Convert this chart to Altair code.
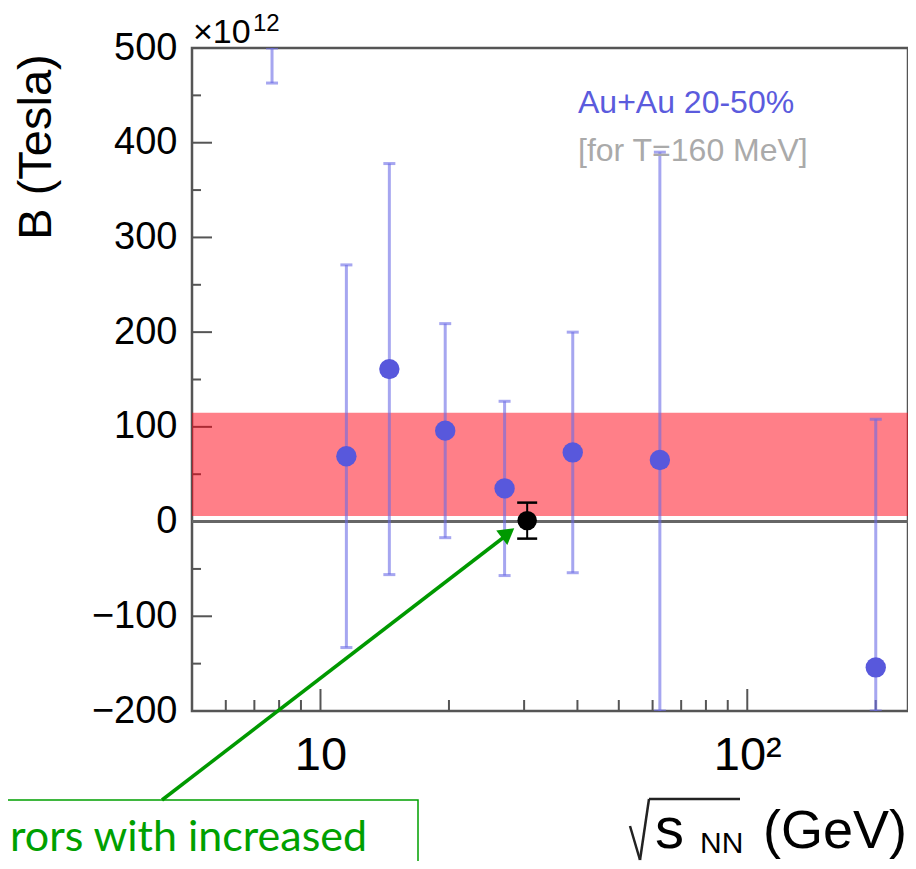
import altair as alt
import pandas as pd

# ---------------- data ----------------
energy = [7.7, 11.5, 14.5, 19.6, 27, 39, 62.4, 200]          # sqrt(s_NN) in GeV
b_value = [620, 69, 161, 96, 35, 73, 65, -154]               # B (x10^12 T)
b_error = [157, 202, 217, 113, 92, 127, 325, 262]

ref_energy = [30.5]
ref_value = [1]
ref_error = [19]

band_low = [6]
band_high = [115]

x_domain = [5, 238]
y_domain = [-200, 500]
x_label_ticks = [10, 100]
x_minor_ticks = [6, 7, 8, 9, 20, 30, 40, 50, 60, 70, 80, 90, 200]
y_major_ticks = [-200, -100, 0, 100, 200, 300, 400, 500]
y_minor_ticks = [-150, -50, 50, 150, 250, 350, 450]

legend_lines = ["Au+Au 20-50%", "[for T=160 MeV]"]
y_title = "B (Tesla)"
y_exponent = ["×10", "12"]
x_title_parts = ["s", "NN", "(GeV)"]
note_text = "rors with increased"

# ---------------- layout ----------------
W, H = 716, 663
OX, OY = 192, 48          # page position of plot origin
FONT = "Liberation Sans"
BLUE = "#5858dc"
GREEN = "#00a000"
FRAME = "#555555"

xs = alt.Scale(type="log", domain=x_domain, nice=False)
ys = alt.Scale(domain=y_domain, nice=False, zero=False)

AX_X = alt.Axis(
    values=x_label_ticks,
    labelExpr="datum.value == 10 ? '10' : '10²'",
    labelFontSize=47, labelFont=FONT, labelColor="black",
    tickSize=0, domain=False, grid=False, title=None,
    labelPadding=21, labelFlush=False, labelOverlap=False)
AX_Y = alt.Axis(
    values=y_major_ticks, format="d",
    labelFontSize=38, labelFont=FONT, labelColor="black",
    tickSize=0, domain=False, grid=False, title=None,
    labelPadding=15, labelFlush=False, labelOverlap=False)

df = pd.DataFrame({"E": energy, "B": b_value, "err": b_error})
ref = pd.DataFrame({"E": ref_energy, "B": ref_value, "err": ref_error})
band = pd.DataFrame({"lo": band_low, "hi": band_high})


def calc(ch):
    return ch.transform_calculate(
        lo="datum.B - datum.err",
        hi="datum.B + datum.err",
    ).transform_calculate(
        lo_cap="max(datum.lo, %d)" % y_domain[0],
        hi_cap="min(datum.hi, %d)" % y_domain[1],
    )


def X(field="E"):
    return alt.X(f"{field}:Q", scale=xs, axis=AX_X)


def Y(field):
    return alt.Y(f"{field}:Q", scale=ys, axis=AX_Y)


def txt(s, px, py, size, color="black", font=FONT, align="left",
        baseline="alphabetic", angle=0):
    d = pd.DataFrame({"t": [s]})
    return alt.Chart(d).mark_text(
        align=align, baseline=baseline, fontSize=size, font=font,
        color=color, angle=angle
    ).encode(x=alt.value(px - OX), y=alt.value(py - OY), text="t:N")


def seg(p1, p2, color, width):
    d = pd.DataFrame({"k": [0]})
    return alt.Chart(d).mark_rule(color=color, strokeWidth=width).encode(
        x=alt.value(p1[0] - OX), y=alt.value(p1[1] - OY),
        x2=alt.value(p2[0] - OX), y2=alt.value(p2[1] - OY))


# inward ticks
xmaj = alt.Chart(pd.DataFrame({"v": x_label_ticks})).mark_rule(
    color=FRAME, strokeWidth=2).encode(x=X("v"), y=alt.value(H), y2=alt.value(H - 22))
xmin = alt.Chart(pd.DataFrame({"v": x_minor_ticks})).mark_rule(
    color=FRAME, strokeWidth=2).encode(x=X("v"), y=alt.value(H), y2=alt.value(H - 11))
ymaj = alt.Chart(pd.DataFrame({"v": y_major_ticks})).mark_rule(
    color=FRAME, strokeWidth=2).encode(y=Y("v"), x=alt.value(0), x2=alt.value(20))
ymin = alt.Chart(pd.DataFrame({"v": y_minor_ticks})).mark_rule(
    color=FRAME, strokeWidth=2).encode(y=Y("v"), x=alt.value(0), x2=alt.value(9))

band_layer = alt.Chart(band).mark_rect(color="#ff0011", opacity=0.5).encode(
    x=alt.value(0), x2=alt.value(W), y=Y("lo"), y2="hi:Q")

zero_layer = alt.Chart(pd.DataFrame({"v": [0]})).mark_rule(
    color="#666666", strokeWidth=3).encode(y=Y("v"))

bars = calc(alt.Chart(df)).mark_rule(
    color="#6a6ae6", opacity=0.6, strokeWidth=3, clip=True
).encode(x=X(), y=Y("lo"), y2="hi:Q")
caps_lo = calc(alt.Chart(df)).mark_rule(
    color="#6a6ae6", opacity=0.6, strokeWidth=3, xOffset=-6, x2Offset=6, clip=True
).encode(x=X(), x2="E:Q", y=Y("lo_cap"))
caps_hi = calc(alt.Chart(df)).mark_rule(
    color="#6a6ae6", opacity=0.6, strokeWidth=3, xOffset=-6, x2Offset=6, clip=True
).encode(x=X(), x2="E:Q", y=Y("hi_cap"))

points = alt.Chart(df).mark_circle(size=415, color=BLUE, opacity=1, clip=True).encode(
    x=X(), y=Y("B"))

ref_bar = calc(alt.Chart(ref)).mark_rule(color="black", strokeWidth=2).encode(
    x=X(), y=Y("lo"), y2="hi:Q")
ref_caps_lo = calc(alt.Chart(ref)).mark_rule(
    color="black", strokeWidth=2.5, xOffset=-10, x2Offset=10).encode(
    x=X(), x2="E:Q", y=Y("lo"))
ref_caps_hi = calc(alt.Chart(ref)).mark_rule(
    color="black", strokeWidth=2.5, xOffset=-10, x2Offset=10).encode(
    x=X(), x2="E:Q", y=Y("hi"))
ref_point = alt.Chart(ref).mark_circle(size=380, color="black", opacity=1).encode(
    x=X(), y=Y("B"))

# green annotation arrow + box + text
arrow_line = seg((162, 800), (508, 534), "#009900", 3.5)
arrow_head = alt.Chart(pd.DataFrame({"k": [0]})).mark_point(
    shape="triangle-up", filled=True, color="#009900", opacity=1, size=330, angle=52.5
).encode(x=alt.value(508 - OX), y=alt.value(533 - OY))
box = alt.Chart(pd.DataFrame({"k": [0]})).mark_rect(
    fillOpacity=0, stroke=GREEN, strokeWidth=1.5).encode(
    x=alt.value(-20 - OX), x2=alt.value(418 - OX),
    y=alt.value(800 - OY), y2=alt.value(900 - OY))
note = txt(note_text, 10, 851, 43, color=GREEN, font="Lato")

# texts
leg1 = txt(legend_lines[0], 578, 113, 32, color="#5b5bdd")
leg2 = txt(legend_lines[1], 578, 161, 32, color="#aaaaaa")
ytitle = txt(y_title, 37, 147, 47, align="center", baseline="middle", angle=270)
exp1 = txt(y_exponent[0], 193, 43, 34)
exp2 = txt(y_exponent[1], 253, 31, 24)
xt_s = txt(x_title_parts[0], 655, 848, 58)
xt_nn = txt(x_title_parts[1], 700, 853, 30)
xt_gev = txt(x_title_parts[2], 907, 848, 54, align="right")
rad1 = seg((630, 826), (640, 860), "#222222", 2.5)
rad2 = seg((640, 860), (649, 799), "#222222", 2.5)
rad3 = seg((649, 799), (740, 799), "#222222", 2.5)

chart = alt.layer(
    xmaj, xmin, ymaj, ymin,
    band_layer, zero_layer,
    bars, caps_lo, caps_hi, points,
    ref_bar, ref_caps_lo, ref_caps_hi, ref_point,
    arrow_line, arrow_head, box, note,
    leg1, leg2, ytitle, exp1, exp2,
    xt_s, xt_nn, xt_gev, rad1, rad2, rad3,
).properties(
    width=W, height=H,
    padding={"left": 184, "top": 40, "right": 0, "bottom": 150},
    autosize=alt.AutoSizeParams(type="none"),
    background="white",
).configure_view(
    stroke=FRAME, strokeWidth=2.5
)

chart.save("out.html", embed_options={"renderer": "svg", "actions": False})
